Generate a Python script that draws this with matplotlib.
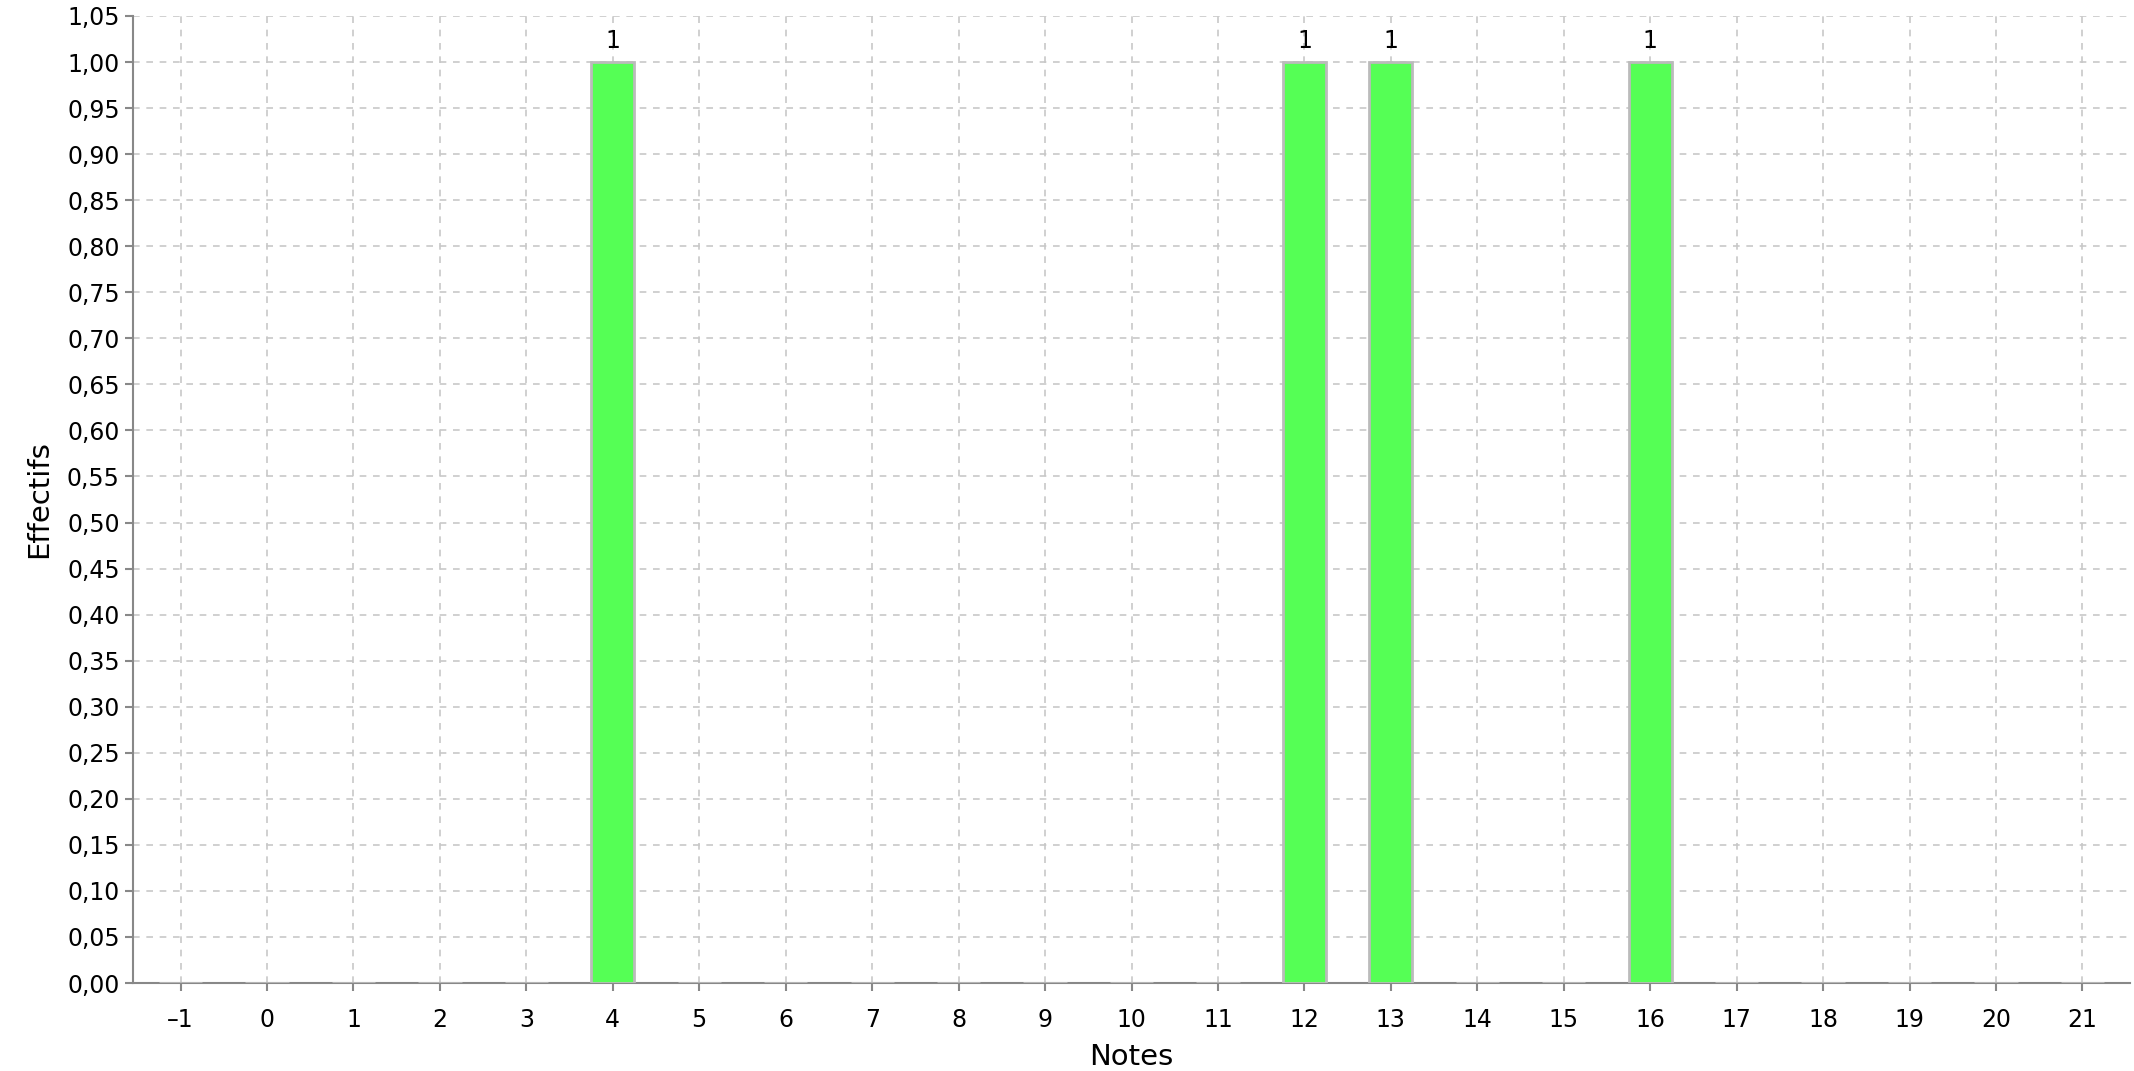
import numpy as np
import matplotlib.pyplot as plt
from matplotlib.ticker import FuncFormatter, MultipleLocator

# Notes (categories) and counts
notes = list(range(-1, 22))
effectifs = [0, 0, 0, 0, 0, 1, 0, 0, 0, 0, 0, 0, 0, 1, 1, 0, 0, 1, 0, 0, 0, 0, 0]

fig = plt.figure(figsize=(21.34, 10.71), dpi=100)
ax = fig.add_axes([133 / 2134, 1 - 983 / 1071, (2130 - 133) / 2134, (983 - 16) / 1071])

bars = ax.bar(notes, effectifs, width=0.5, color="#55ff55", edgecolor="#bbbbbb",
              linewidth=2, zorder=3)
for x, v in zip(notes, effectifs):
    if v > 0:
        ax.text(x, v + 0.01, str(v), ha="center", va="bottom", fontsize=17, zorder=4)

ax.set_xlim(-1.55, 21.55)
ax.set_ylim(0, 1.05)
ax.set_xticks(notes)
ax.yaxis.set_major_locator(MultipleLocator(0.05))
ax.yaxis.set_major_formatter(FuncFormatter(lambda v, p: f"{v:.2f}".replace(".", ",")))
ax.xaxis.set_major_formatter(FuncFormatter(lambda v, p: f"{int(round(v))}".replace("-", "\u2013")))

ax.grid(True, color="#c8c8c8", linestyle=(0, (4, 4)), linewidth=1.2, zorder=0)
for s in ["top", "right"]:
    ax.spines[s].set_visible(False)
for s in ["left", "bottom"]:
    ax.spines[s].set_color("#888888")
    ax.spines[s].set_linewidth(1.5)
ax.tick_params(axis="both", colors="#888888", length=6, width=1.5, labelsize=17,
               labelcolor="black")
ax.tick_params(axis="x", pad=12)

ax.set_xlabel("Notes", fontsize=21, labelpad=8)
ax.set_ylabel("Effectifs", fontsize=21, labelpad=10)

fig.savefig("out.png", dpi=100)
